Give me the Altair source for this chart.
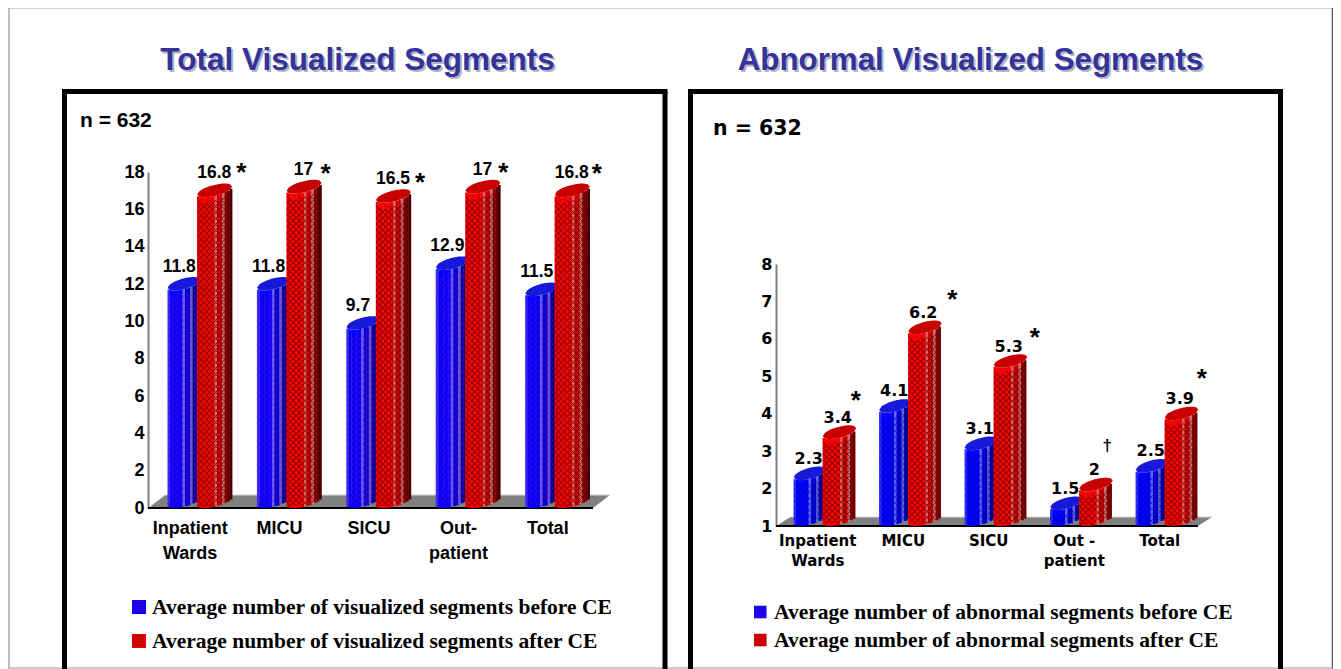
import math
import altair as alt
import pandas as pd

# ---------- data ----------
CATS_A = ["Inpatient|Wards", "MICU", "SICU", "Out-|patient", "Total"]
BEFORE_A = [11.8, 11.8, 9.7, 12.9, 11.5]
AFTER_A = [16.8, 17, 16.5, 17, 16.8]
TICKS_A = [0, 2, 4, 6, 8, 10, 12, 14, 16, 18]
CATS_B = ["Inpatient|Wards", "MICU", "SICU", "Out -|patient", "Total"]
BEFORE_B = [2.3, 4.1, 3.1, 1.5, 2.5]
AFTER_B = [3.4, 6.2, 5.3, 2, 3.9]
TICKS_B = [1, 2, 3, 4, 5, 6, 7, 8]
MARKS_A = ["*", "*", "*", "*", "*"]
MARKS_B = ["*", "*", "*", "\u2020", "*"]
TITLE_A = "Total Visualized Segments"
TITLE_B = "Abnormal Visualized Segments"
LEGEND_A = ["Average number of visualized segments before CE", "Average number of visualized segments after CE"]
LEGEND_B = ["Average number of abnormal segments before CE", "Average number of abnormal segments after CE"]

# ---------- styles ----------
W, H = 1325, 661
RED_STRIPS = ["#f00000"] * 7 + ["#e85858", "#c80000", "#c80000", "#d07070", "#900000", "#700000", "#480000"]
BLUE_STRIPS = ["#3030ff"] + ["#0000ff"] * 5 + ["#6060ff", "#0000d0", "#0000d0", "#6060e0", "#0000a0", "#000080", "#000060"]
STEP = 2.5
TILT, B = 4.0, 5.5
EMPTY = alt.Data(values=[{"a": 1}])


def px(v):
    return v - 8  # page pixel -> chart pixel


def off(u):
    return -TILT * (1 + u) + B * math.sqrt(max(0, 1 - u * u))


MAXOFF = -TILT + math.sqrt(TILT * TILT + B * B)


def ellipse(L, wid):
    pts = []
    n = 16
    for i in range(n + 1):
        u = -1 + 2 * i / n
        pts.append((L + wid / 2 * (1 + u), -TILT * (1 + u) - B * math.sqrt(1 - u * u)))
    for i in range(n, -1, -1):
        u = -1 + 2 * i / n
        pts.append((L + wid / 2 * (1 + u), off(u)))
    return "M" + "L".join(f"{x:.1f} {y:.1f}" for x, y in pts) + "Z"


def lattice(L, wid, h, p=3.0):
    segs = []
    nx, ny = int(wid / p), int(h / p)
    for i in range(nx):
        for j in range(-3, ny + 1):
            x0, y0 = L + i * p + 0.5, j * p
            xm = x0 + p / 2
            um = (xm - L) / (wid / 2) - 1
            if y0 - p < off(um) + 0.5 or y0 + p > h + off(um) - MAXOFF:
                continue
            if (i + j) % 2 == 0:
                segs.append(f"M{x0:.1f} {y0:.1f}L{x0 + p:.1f} {y0 + p:.1f}")
            else:
                segs.append(f"M{x0:.1f} {y0 + p:.1f}L{x0 + p:.1f} {y0:.1f}")
    return "".join(segs)


def text(s, x, y, size, font="Liberation Sans", color="#000000", align="center", weight="bold"):
    return alt.Chart(EMPTY).mark_text(text=s, font=font, fontSize=size, fontWeight=weight, color=color,
                                      align=align, baseline="middle").encode(x=alt.value(px(x)), y=alt.value(px(y)))


def shape(path, x, y, fill=None, stroke=None, sw=1.0, op=1.0):
    kw = dict(shape=path, size=4, opacity=op)
    if fill:
        kw.update(filled=True, fill=fill, strokeWidth=0)
    else:
        kw.update(filled=False, stroke=stroke, strokeWidth=sw)
    return alt.Chart(EMPTY).mark_point(**kw).encode(x=alt.value(px(x)), y=alt.value(px(y)))


def rule(x, y, x2, y2, color, sw):
    return alt.Chart(EMPTY).mark_rule(color=color, strokeWidth=sw).encode(
        x=alt.value(px(x)), y=alt.value(px(y)), x2=alt.value(px(x2)), y2=alt.value(px(y2)))


def scales(cats, cfg):
    xs = alt.Scale(type="band", domain=cats, range=[px(cfg["band"][0]), px(cfg["band"][1])], paddingInner=0, paddingOuter=0)
    lo, hi = cfg["domain"]
    ys = alt.Scale(domain=[lo, hi], range=[px(cfg["y0"]), px(cfg["y1"])], nice=False, zero=False)
    return xs, ys


def axes_layer(cats, before, after, ticks, cfg):
    df = pd.DataFrame({"cat": cats, "before": before, "after": after})
    xs, ys = scales(cats, cfg)
    lo, hi = cfg["domain"]
    axis_x = alt.Axis(title=None, orient="bottom", offset=-(H - px(cfg["y0"])), domain=False, ticks=False,
                      labelAngle=0, labelFont=cfg["font"], labelFontSize=cfg["xsize"], labelFontWeight="bold",
                      labelColor="#000000", labelPadding=cfg["xpad"], labelOffset=cfg["xoff"],
                      labelLineHeight=cfg["lh"], labelExpr="split(datum.label,'|')")
    axis_y = alt.Axis(title=None, orient="left", offset=-px(cfg["ax"]), values=ticks, grid=False,
                      ticks=False, domain=True, domainColor="#808080", domainWidth=2, labelFont=cfg["font"],
                      labelFontSize=cfg["ysize"], labelFontWeight="bold", labelColor="#000000", labelPadding=4,
                      labelFlush=False, labelOverlap=False, format="d")
    return alt.Chart(df).mark_bar(opacity=0).encode(
        x=alt.X("cat:N", scale=xs, axis=axis_x, sort=None),
        y=alt.Y("before:Q", scale=ys, axis=axis_y), y2=alt.datum(lo))


def panel(cats, before, after, marks, cfg):
    df = pd.DataFrame({"cat": cats, "before": before, "after": after})
    xs, ys = scales(cats, cfg)
    lo, hi = cfg["domain"]
    unit = (cfg["y0"] - cfg["y1"]) / (hi - lo)
    X = alt.X("cat:N", scale=xs, axis=None, sort=None)
    layers = []
    ax, y0 = cfg["ax"], cfg["y0"]
    dx, dy = cfg["floor"]
    xr = cfg["xr"]
    layers.append(shape(f"M0 0L{dx} {-dy}L{xr + dx} {-dy}L{xr} 0Z", ax, y0, fill="#808080"))
    layers.append(shape(f"M0 0L{dx} {-dy}L{xr + dx} {-dy}", ax, y0, stroke="#d4d4d4", sw=1))
    layers.append(rule(ax, y0, ax + xr, y0, "#000000", 2))

    for field, L, wid, strips, top, latt, lw, lop in (
        ("before", cfg["blue"][0], cfg["blue"][1], BLUE_STRIPS, cfg["bluetop"], cfg["bluehatch"], cfg["bluelw"], cfg["blueop"]),
        ("after", cfg["red"][0], cfg["red"][1], RED_STRIPS, "#c80000", "#500000", 1.0, 0.8),
    ):
        n = int(wid / STEP)
        for i in range(n):
            xc = L + STEP * (i + 0.5)
            u = (xc - L) / (wid / 2) - 1
            o = off(u)
            layers.append(alt.Chart(df).mark_bar(width=STEP + 0.4, xOffset=xc, yOffset=o, y2Offset=o - MAXOFF,
                                                 color=strips[min(i, len(strips) - 1)]).encode(
                x=X, y=alt.Y(f"{field}:Q", scale=ys, axis=None), y2=alt.datum(lo)))
        for k, cat in enumerate(cats):
            v = df[field][k]
            h = (v - lo) * unit
            sub = df[df.cat == cat]
            layers.append(alt.Chart(sub).mark_point(shape=lattice(L, wid * 0.98, h), size=4, filled=False, stroke=latt,
                                                    strokeWidth=lw, opacity=lop).encode(
                x=X, y=alt.Y(f"{field}:Q", scale=ys, axis=None)))
        layers.append(alt.Chart(df).mark_point(shape=ellipse(L, wid), size=4, filled=True, fill=top, strokeWidth=0,
                                               opacity=1).encode(
            x=X, y=alt.Y(f"{field}:Q", scale=ys, axis=None)))
    for field, ddx in (("before", cfg["lab"][0]), ("after", cfg["lab"][1])):
        layers.append(alt.Chart(df).mark_text(font=cfg["font"], fontSize=cfg["vsize"], fontWeight="bold", color="#000000",
                                              dx=ddx, dy=cfg["lab"][2], baseline="middle").encode(
            x=X, y=alt.Y(f"{field}:Q", scale=ys, axis=None), text=alt.Text(f"{field}:Q")))
    for k, (cat, m) in enumerate(zip(cats, marks)):
        sx, sy = cfg["stars"][k]
        layers.append(alt.Chart(df[df.cat == cat]).mark_text(
            text=m, font="Liberation Sans", fontSize=cfg["ssize"] if m == "*" else 17, fontWeight="bold",
            color="#000000", dx=sx, dy=sy + (cfg["sshift"] if m == "*" else 0), baseline="middle").encode(
            x=X, y=alt.Y("after:Q", scale=ys, axis=None)))
    return alt.layer(*layers)


CFG_A = dict(band=[155.5, 602.5], domain=(0, 18), y0=508, y1=172, ax=148, floor=(17, 13), xr=445,
             font="Liberation Sans", xsize=18, ysize=18, vsize=17.5, xpad=11, xoff=-10, lh=25,
             blue=(-32.5, 33), red=(-3, 35), bluetop="#1818d8", bluehatch="#9000a0", bluelw=0.9, blueop=0.5,
             lab=(-21, 14, -21), ssize=26, sshift=6,
             stars=[(41, -27), (36, -23), (41, -23), (35, -24), (39, -26)])
CFG_B = dict(band=[782, 1209.5], domain=(1, 8), y0=526, y1=264, ax=776, floor=(14, 9), xr=422,
             font="DejaVu Sans", xsize=15, ysize=16, vsize=16, xpad=7, xoff=-7, lh=20,
             blue=(-31, 32), red=(-2, 33.5), bluetop="#1818d8", bluehatch="#000090", bluelw=0.9, blueop=0.65,
             lab=(-16, 13, -18.5), ssize=26, sshift=6,
             stars=[(31, -41), (42, -37), (39, -33), (26, -43), (35, -44)])

decor = [
    rule(9, 7.5, 1332.5, 7.5, "#444444", 1.5),
    rule(9, 7.5, 9, 669, "#aaaaaa", 1.5),
    rule(1332.5, 7.5, 1332.5, 669, "#555555", 1.5),
    rule(9, 668, 1332.5, 668, "#bbbbbb", 1.5),
]
for x1, x2 in ((64.5, 665), (690.5, 1280.5)):
    decor += [rule(x1 - 2.5, 91.5, x2 + 2.5, 91.5, "#000000", 5), rule(x1, 91.5, x1, 669, "#000000", 5),
              rule(x2, 91.5, x2, 669, "#000000", 5)]
for s, c, sz in ((TITLE_A, 357.5, 31.5), (TITLE_B, 970.5, 31.3)):
    decor.append(text(s, c + 2, 63, sz, color="#b4b4c4"))
    decor.append(text(s, c, 61, sz, color="#333399"))
decor.append(text("n = 632", 80, 121, 21, align="left"))
decor.append(text("n = 632", 713, 128.5, 20.5, font="DejaVu Sans", align="left"))


def legend(labels, sq, tx, ys, size, sizepx):
    out = []
    for lab, y, fill, hatch in zip(labels, ys, ("#0000ff", "#f00000"), ("#9000a0", "#5a0000")):
        out.append(alt.Chart(EMPTY).mark_rect(color=fill).encode(
            x=alt.value(px(sq)), x2=alt.value(px(sq + sizepx)), y=alt.value(px(y - sizepx / 2)), y2=alt.value(px(y + sizepx / 2))))
        p = "".join(f"M{a} {b}L{a + 3} {b + 3}M{a} {b + 3}L{a + 3} {b}"
                    for a in range(0, int(sizepx) - 2, 3) for b in range(0, int(sizepx) - 2, 3))
        out.append(shape(p, sq + 0.5, y - sizepx / 2 + 0.5, stroke=hatch, sw=0.7, op=0.6))
        out.append(text(lab, tx, y + 1, size, font="Liberation Serif", align="left"))
    return out


decor += legend(LEGEND_A, 132, 152, (607, 641), 21.5, 14)
decor += legend(LEGEND_B, 754, 774, (612, 640), 21.5, 12.5)

chart = alt.layer(
    alt.layer(*decor),
    axes_layer(CATS_A, BEFORE_A, AFTER_A, TICKS_A, CFG_A),
    panel(CATS_A, BEFORE_A, AFTER_A, MARKS_A, CFG_A),
    axes_layer(CATS_B, BEFORE_B, AFTER_B, TICKS_B, CFG_B),
    panel(CATS_B, BEFORE_B, AFTER_B, MARKS_B, CFG_B),
).resolve_scale(x="independent", y="independent").resolve_axis(x="independent", y="independent").properties(
    width=W, height=H, padding=0, autosize=alt.AutoSizeParams(type="none")
).configure_view(strokeWidth=0)

chart.save("out.html", embed_options={"renderer": "svg", "actions": False})
